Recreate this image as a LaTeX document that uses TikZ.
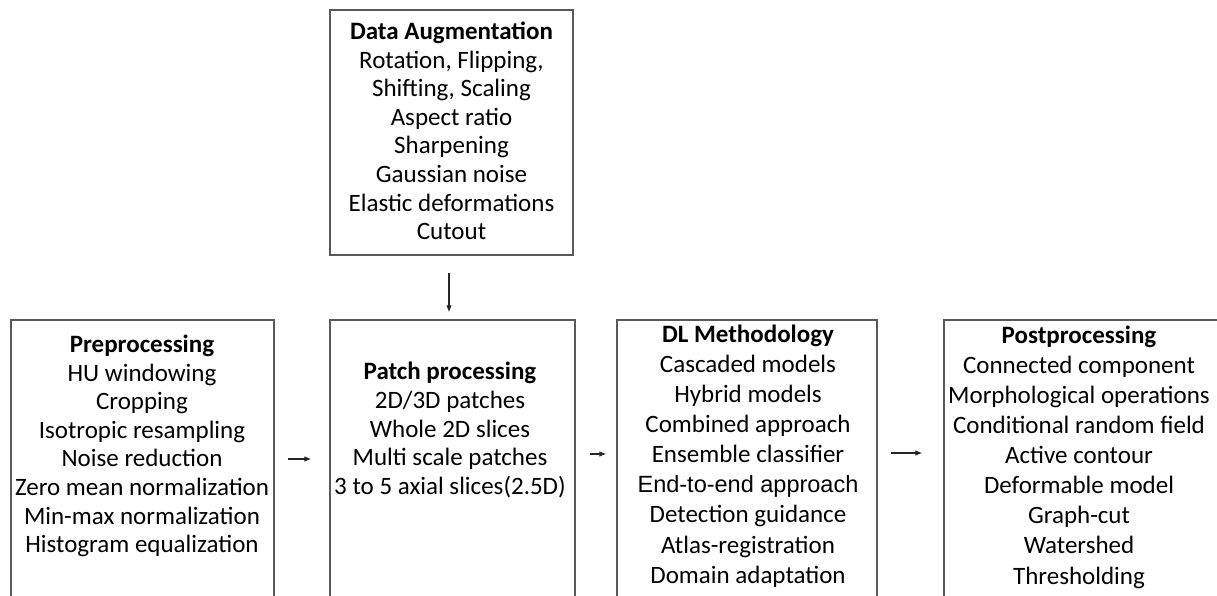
\documentclass[tikz,border=0pt]{standalone}
\usepackage{fontspec}
\setmainfont{Carlito}
\newfontfamily\arialf{Liberation Sans}
\usetikzlibrary{arrows.meta}
\begin{document}
\begin{tikzpicture}[x=1pt,y=-1pt,
  box/.style={draw=black!65,line width=1.2pt,inner sep=0pt},
  txt/.style={align=center,inner sep=0pt,font=\fontsize{25}{28.6}\selectfont},
  txtw/.style={align=center,inner sep=0pt,font=\fontsize{25}{30.1}\selectfont},
  arr/.style={-{Latex[length=7pt,width=5.5pt]},line width=1.1pt,draw=black!85}]
\useasboundingbox (0,0) rectangle (1217,596);
\clip (0,0) rectangle (1217,596);
% boxes
\node[box,minimum width=243pt,minimum height=245pt] (aug) at (451.5,132.5) {};
\node[box,minimum width=263pt,minimum height=320pt] (pre) at (142.5,480) {};
\node[box,minimum width=245pt,minimum height=320pt] (patch) at (452.5,480) {};
\node[box,minimum width=260pt,minimum height=320pt] (dl) at (747,480) {};
\node[box,minimum width=296pt,minimum height=320pt] (post) at (1092,480) {};
% texts
\node[txt] (augt) at (451.5,131) {\textbf{Data Augmentation}\\Rotation, Flipping,\\Shifting, Scaling\\Aspect ratio\\Sharpening\\Gaussian noise\\Elastic deformations\\Cutout};
\node[txt] (pret) at (142,446) {\textbf{Preprocessing}\\HU windowing\\Cropping\\Isotropic resampling\\Noise reduction\\Zero mean normalization\\Min-max normalization\\Histogram equalization};
\node[txt] (patcht) at (450,430) {\textbf{Patch processing}\\2D/3D patches\\Whole 2D slices\\Multi scale patches\\3 to 5 axial slices(2.5D)};
\node[txtw] (dlt) at (748,456) {\textbf{DL Methodology}\\Cascaded models\\Hybrid models\\Combined approach\\Ensemble classifier\\{\arialf\fontsize{23.5}{30.1}\selectfont End-to-end approach}\\Detection guidance\\Atlas-registration\\Domain adaptation};
\node[txtw] (postt) at (1079,457) {\textbf{Postprocessing}\\Connected component\\Morphological operations\\Conditional random field\\Active contour\\Deformable model\\Graph-cut\\Watershed\\Thresholding};
% arrow rows
\coordinate (r1) at (0,459);
\coordinate (r2) at (0,454);
\coordinate (r3) at (0,453);
\coordinate (c1) at (449,0);
\draw[arr,shorten <=17pt,shorten >=7pt] (aug.south -| c1) -- (patch.north -| c1);
\draw[arr,shorten <=13pt,shorten >=18pt] (pre.east |- r1) -- (patch.west |- r1);
\draw[arr,shorten <=14pt,shorten >=10pt] (patch.east |- r2) -- (dl.west |- r2);
\draw[arr,shorten <=13pt,shorten >=21pt] (dl.east |- r3) -- (post.west |- r3);
\end{tikzpicture}
\end{document}
